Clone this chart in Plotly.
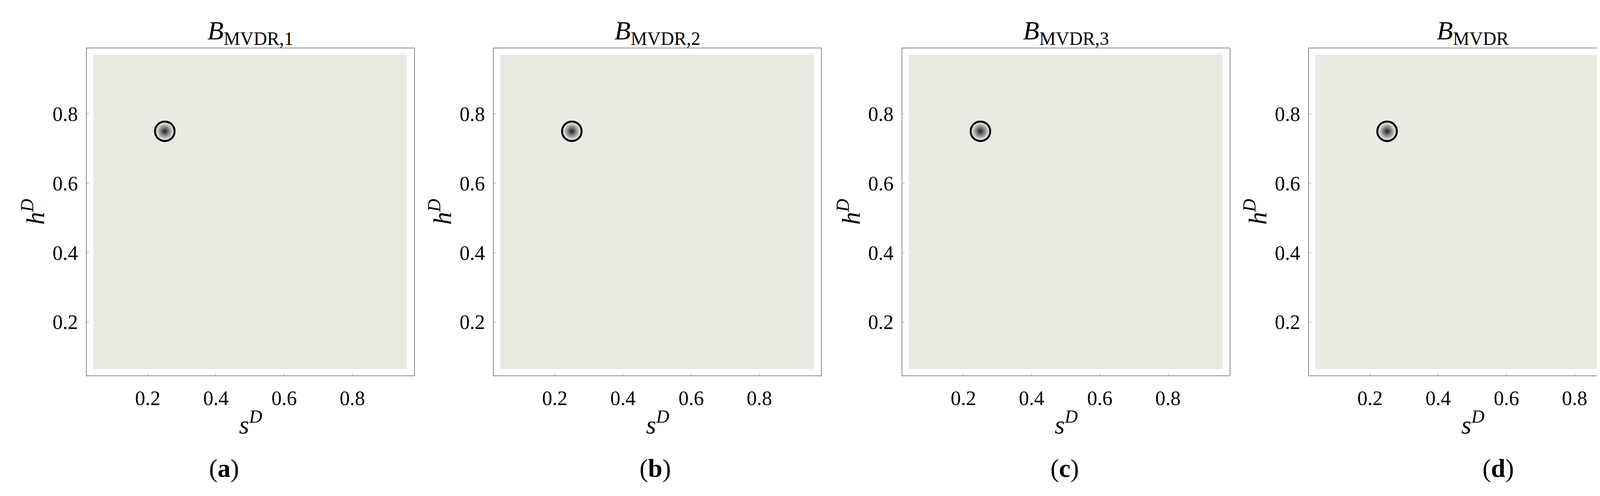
import plotly.graph_objects as go

W, H = 4228, 1271
titles = ["<i>B</i><sub>MVDR,1</sub>", "<i>B</i><sub>MVDR,2</sub>", "<i>B</i><sub>MVDR,3</sub>", "<i>B</i><sub>MVDR</sub>"]
labels = ["(<b>a</b>)", "(<b>b</b>)", "(<b>c</b>)", "(<b>d</b>)"]
peak_s = [0.25, 0.25, 0.25, 0.25]
peak_h = [0.75, 0.75, 0.75, 0.75]
ticks = [0.2, 0.4, 0.6, 0.8]
tick_text = ["0.2", "0.4", "0.6", "0.8"]
fill_range_s = [0.04, 0.96]
fill_range_h = [0.064, 0.971]

lefts = [214, 1256, 2302, 3343]
label_px = [565, 1669, 2717, 3827]
pw = 838
top_px, bot_px = 116, 954
bg = "#E9EAE2"
font = "Liberation Serif"

fig = go.Figure()
for i in range(4):
    xa = "x" if i == 0 else f"x{i+1}"
    ya = "y" if i == 0 else f"y{i+1}"
    fig.add_trace(go.Scatter(x=[peak_s[i]], y=[peak_h[i]], mode="markers", xaxis=xa, yaxis=ya,
                             marker=dict(size=44, color=bg, line=dict(width=0),
                                         gradient=dict(type="radial", color="#1f242b")),
                             showlegend=False, hoverinfo="skip"))
    fig.add_trace(go.Scatter(x=[peak_s[i]], y=[peak_h[i]], mode="markers", xaxis=xa, yaxis=ya,
                             marker=dict(size=50, symbol="circle-open", color="black",
                                         line=dict(width=5, color="black")),
                             showlegend=False, hoverinfo="skip"))
    dx = [lefts[i] / W, (lefts[i] + pw) / W]
    dy = [1 - bot_px / H, 1 - top_px / H]
    axcommon = dict(showgrid=False, zeroline=False, showline=True, linecolor="#8a8a8a",
                    linewidth=2, mirror=True, ticks="inside", ticklen=6, tickcolor="#8a8a8a",
                    tickvals=ticks, ticktext=tick_text, tickfont=dict(family=font, size=52, color="black"))
    fig.update_layout(**{
        ("xaxis" if i == 0 else f"xaxis{i+1}"): dict(domain=dx, range=[0.021, 0.981], anchor=ya,
                                                      ticklabelstandoff=12, **axcommon),
        ("yaxis" if i == 0 else f"yaxis{i+1}"): dict(domain=dy, range=[0.046, 0.989], anchor=xa,
                                                      ticklabelstandoff=10, **axcommon),
    })
    fig.add_shape(type="rect", xref=xa, yref=ya, x0=fill_range_s[0], x1=fill_range_s[1],
                  y0=fill_range_h[0], y1=fill_range_h[1], fillcolor=bg, line=dict(width=0), layer="below")
    cx = (lefts[i] + pw / 2) / W
    fig.add_annotation(text=titles[i], x=cx, y=1 - 75 / H, xref="paper", yref="paper", showarrow=False,
                       font=dict(family=font, size=68, color="black"), xanchor="center", yanchor="middle")
    fig.add_annotation(text="<i>s</i><sup><i>D</i></sup>", x=cx, y=1 - 1075 / H, xref="paper", yref="paper",
                       showarrow=False, font=dict(family=font, size=66, color="black"),
                       xanchor="center", yanchor="middle")
    fig.add_annotation(text="<i>h</i><sup><i>D</i></sup>", x=(lefts[i] - 137) / W, y=1 - 535 / H,
                       xref="paper", yref="paper", showarrow=False, textangle=-90,
                       font=dict(family=font, size=66, color="black"), xanchor="center", yanchor="middle")
    fig.add_annotation(text=labels[i], x=label_px[i] / W, y=1 - 1192 / H, xref="paper", yref="paper",
                       showarrow=False, font=dict(family=font, size=66, color="black"),
                       xanchor="center", yanchor="middle")

fig.update_layout(width=W, height=H, margin=dict(l=0, r=0, t=0, b=0),
                  paper_bgcolor="white", plot_bgcolor="white")
fig.write_html("out.html")
